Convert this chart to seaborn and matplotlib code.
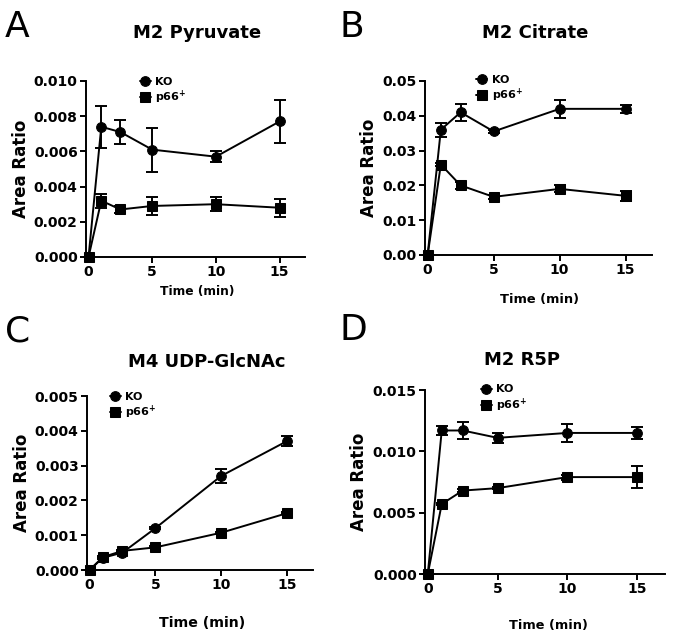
import numpy as np
import pandas as pd
import seaborn as sns
import matplotlib.pyplot as plt
from matplotlib.ticker import FormatStrFormatter

sns.set_style('ticks')
plt.rcParams['font.family'] = ['DejaVu Sans']
plt.rcParams['font.weight'] = 'bold'
plt.rcParams['mathtext.default'] = 'regular'
plt.rcParams['text.color'] = 'black'
plt.rcParams['axes.labelcolor'] = 'black'
plt.rcParams['xtick.color'] = 'black'
plt.rcParams['ytick.color'] = 'black'
plt.rcParams['axes.edgecolor'] = 'black'

time = [0, 1, 2.5, 5, 10, 15]
groups = ['KO', 'p66$^{+}$']

# M2 Pyruvate
pyr_ko = [0, 0.0074, 0.0071, 0.0061, 0.0057, 0.0077]
pyr_ko_err = [0, 0.0012, 0.0007, 0.00125, 0.0003, 0.0012]
pyr_p66 = [0, 0.0032, 0.0027, 0.0029, 0.0030, 0.0028]
pyr_p66_err = [0, 0.0004, 0.0002, 0.0005, 0.0004, 0.0005]

# M2 Citrate
cit_ko = [0, 0.036, 0.041, 0.0355, 0.042, 0.042]
cit_ko_err = [0, 0.002, 0.0025, 0.0005, 0.0025, 0.0012]
cit_p66 = [0, 0.026, 0.020, 0.0167, 0.019, 0.017]
cit_p66_err = [0, 0.0005, 0.001, 0.0005, 0.001, 0.0015]

# M4 UDP-GlcNAc
udp_ko = [0, 0.00035, 0.0005, 0.0012, 0.0027, 0.0037]
udp_ko_err = [0, 0.00003, 0.00003, 0.00003, 0.0002, 0.00015]
udp_p66 = [0, 0.00037, 0.00055, 0.00065, 0.00107, 0.00163]
udp_p66_err = [0, 0.00003, 0.00003, 0.00003, 0.00003, 0.00003]

# M2 R5P
r5p_ko = [0, 0.0117, 0.0117, 0.0111, 0.0115, 0.0115]
r5p_ko_err = [0, 0.0004, 0.0007, 0.0004, 0.0007, 0.0005]
r5p_p66 = [0, 0.0057, 0.0068, 0.0070, 0.0079, 0.0079]
r5p_p66_err = [0, 0.0001, 0.0001, 0.0001, 0.0002, 0.0009]

panels = [
    dict(letter='A', title='M2 Pyruvate', ko=pyr_ko, ko_err=pyr_ko_err, p66=pyr_p66, p66_err=pyr_p66_err,
         yticks=[0, 0.002, 0.004, 0.006, 0.008, 0.010], fmt='%.3f',
         pos=[86, 81, 305, 257], leg=(0.245, 0.94), xlab=(197, 292, 8.8), title_xy=(197, 33),
         letter_xy=(5, 37)),
    dict(letter='B', title='M2 Citrate', ko=cit_ko, ko_err=cit_ko_err, p66=cit_p66, p66_err=cit_p66_err,
         yticks=[0, 0.01, 0.02, 0.03, 0.04, 0.05], fmt='%.2f',
         pos=[425, 81, 652, 255], leg=(0.225, 0.95), xlab=(540, 299, 9.4), title_xy=(535, 33),
         letter_xy=(340, 37)),
    dict(letter='C', title='M4 UDP-GlcNAc', ko=udp_ko, ko_err=udp_ko_err, p66=udp_p66, p66_err=udp_p66_err,
         yticks=[0, 0.001, 0.002, 0.003, 0.004, 0.005], fmt='%.3f',
         pos=[87, 396, 313, 570], leg=(0.10, 0.94), xlab=(202, 623, 10.2), title_xy=(207, 362),
         letter_xy=(5, 342)),
    dict(letter='D', title='M2 R5P', ko=r5p_ko, ko_err=r5p_ko_err, p66=r5p_p66, p66_err=r5p_p66_err,
         yticks=[0, 0.005, 0.010, 0.015], fmt='%.3f',
         pos=[425, 390, 665, 574], leg=(0.233, 0.95), xlab=(548, 626, 9.3), title_xy=(522, 360),
         letter_xy=(340, 340)),
]

W, H = 675, 639
fig = plt.figure(figsize=(W / 100, H / 100), dpi=100)

for p in panels:
    l, t, r, b = p['pos']
    ax = fig.add_axes([l / W, 1 - b / H, (r - l) / W, (b - t) / H])
    df = pd.DataFrame({'time': time, 'KO': p['ko'], 'p66': p['p66']})
    sns.lineplot(data=df, x='time', y='KO', ax=ax, color='black', marker='o', markersize=7,
                 linewidth=1.4, markeredgecolor='black', label=groups[0], clip_on=False, zorder=3)
    sns.lineplot(data=df, x='time', y='p66', ax=ax, color='black', marker='s', markersize=7,
                 linewidth=1.4, markeredgecolor='black', label=groups[1], clip_on=False, zorder=3)
    ax.errorbar(time, p['ko'], yerr=p['ko_err'], fmt='none', ecolor='black', elinewidth=1.4,
                capsize=4.5, capthick=1.4, clip_on=False)
    ax.errorbar(time, p['p66'], yerr=p['p66_err'], fmt='none', ecolor='black', elinewidth=1.4,
                capsize=4.5, capthick=1.4, clip_on=False)
    ax.set_xlim(-0.2, 17)
    ax.set_ylim(0, p['yticks'][-1])
    ax.set_xticks([0, 5, 10, 15])
    ax.set_yticks(p['yticks'])
    ax.yaxis.set_major_formatter(FormatStrFormatter(p['fmt']))
    ax.tick_params(labelsize=10, width=1.4, length=4, pad=2)
    for s in ['left', 'bottom']:
        ax.spines[s].set_linewidth(1.4)
    sns.despine(ax=ax)
    ax.set_xlabel('')
    ax.set_ylabel('Area Ratio', fontsize=12, fontweight='bold', labelpad=3)
    ax.legend(loc='center left', bbox_to_anchor=p['leg'], frameon=False, fontsize=8,
              handlelength=1.0, handletextpad=0.4, labelspacing=0.2, borderpad=0, borderaxespad=0)
    fig.text(p['xlab'][0] / W, 1 - p['xlab'][1] / H, 'Time (min)', ha='center', va='center',
             fontsize=p['xlab'][2], fontweight='bold')
    fig.text(p['title_xy'][0] / W, 1 - p['title_xy'][1] / H, p['title'], ha='center', va='center',
             fontsize=13, fontweight='bold')
    fig.text(p['letter_xy'][0] / W, 1 - p['letter_xy'][1] / H, p['letter'], ha='left', va='baseline',
             fontsize=26, fontweight='normal')

fig.savefig('out.png', dpi=100)
